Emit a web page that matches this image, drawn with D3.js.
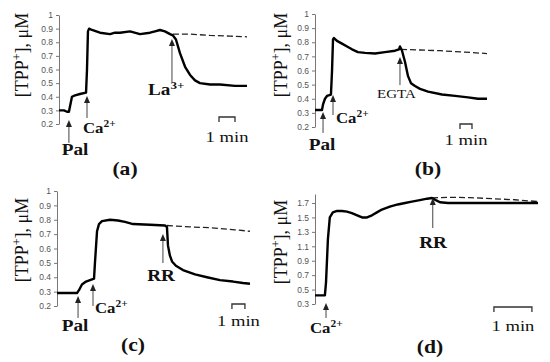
<!DOCTYPE html>
<html>
<head>
<meta charset="utf-8">
<script src="https://cdn.jsdelivr.net/npm/d3@7"></script>
<style>
  body { margin: 0; background: #fff; }
  svg { display: block; }
</style>
</head>
<body>
<svg id="chart" width="550" height="362"></svg>
<script>
// time in minutes, [TPP+] in µM

// (a) Pal, Ca2+, La3+
const timeA = [0, 0.31, 0.5, 0.62, 0.69, 0.81, 1.0, 1.31, 1.69, 1.75, 1.81, 1.88, 2.06, 2.56, 3.19, 3.5, 3.81, 4.44, 5.06, 5.69, 6.0, 6.31, 6.62, 6.94, 7.12, 7.31, 7.56, 7.88, 8.19, 8.5, 8.81, 9.44, 10.06, 11.0, 11.75]
const tppA = [0.30, 0.30, 0.29, 0.29, 0.33, 0.40, 0.41, 0.42, 0.43, 0.60, 0.88, 0.90, 0.89, 0.87, 0.86, 0.87, 0.87, 0.88, 0.86, 0.87, 0.88, 0.89, 0.88, 0.86, 0.85, 0.82, 0.72, 0.62, 0.56, 0.52, 0.50, 0.49, 0.49, 0.48, 0.48]
const dashTimeA = [7.12, 8.19, 9.44, 10.69, 11.75]
const dashTppA = [0.86, 0.86, 0.85, 0.845, 0.84]

// (b) Pal, Ca2+, EGTA
const timeB = [0, 0.58, 0.67, 0.83, 1.0, 1.33, 1.42, 1.5, 1.58, 1.83, 2.25, 2.67, 3.08, 3.58, 4.17, 5.0, 5.83, 6.67, 7.0, 7.08, 7.25, 7.5, 7.75, 8.0, 8.33, 8.75, 9.42, 10.58, 11.67, 12.75, 13.58, 14.33]
const tppB = [0.32, 0.32, 0.36, 0.40, 0.42, 0.43, 0.60, 0.82, 0.83, 0.81, 0.79, 0.77, 0.75, 0.73, 0.725, 0.72, 0.73, 0.74, 0.75, 0.77, 0.74, 0.66, 0.56, 0.51, 0.49, 0.47, 0.45, 0.43, 0.42, 0.41, 0.40, 0.40]
const dashTimeB = [7.17, 8.75, 10.42, 12.5, 14.33]
const dashTppB = [0.75, 0.745, 0.74, 0.73, 0.72]

// (c) Pal, Ca2+, RR
const timeC = [0, 1.0, 1.54, 1.69, 1.92, 2.23, 2.54, 2.85, 2.92, 3.08, 3.23, 3.46, 4.08, 4.69, 5.23, 5.85, 7.15, 8.31, 8.46, 8.54, 8.69, 8.85, 9.15, 9.69, 10.62, 11.54, 12.54, 13.54, 14.31, 14.85]
const tppC = [0.29, 0.29, 0.29, 0.31, 0.35, 0.37, 0.38, 0.39, 0.50, 0.72, 0.77, 0.79, 0.80, 0.795, 0.785, 0.77, 0.765, 0.76, 0.75, 0.62, 0.55, 0.51, 0.48, 0.45, 0.42, 0.40, 0.38, 0.37, 0.36, 0.355]
const dashTimeC = [8.46, 10.23, 11.77, 13.69, 14.85]
const dashTppC = [0.76, 0.75, 0.745, 0.73, 0.72]

// (d) Ca2+, RR
const timeD = [0, 0.26, 0.29, 0.34, 0.39, 0.47, 0.58, 0.71, 0.84, 0.97, 1.11, 1.24, 1.37, 1.50, 1.63, 1.76, 1.97, 2.18, 2.37, 2.55, 2.76, 2.95, 3.08, 3.18, 3.29, 3.5, 4.08, 4.87, 5.87]
const tppD = [0.42, 0.42, 0.60, 1.20, 1.50, 1.57, 1.59, 1.59, 1.58, 1.56, 1.53, 1.50, 1.50, 1.53, 1.57, 1.61, 1.65, 1.68, 1.70, 1.72, 1.74, 1.76, 1.77, 1.74, 1.71, 1.70, 1.70, 1.70, 1.70]
const dashTimeD = [3.08, 3.5, 4.08, 4.66, 5.26, 5.87]
const dashTppD = [1.77, 1.78, 1.775, 1.76, 1.745, 1.72]

const ticksABC = [0.2, 0.3, 0.4, 0.5, 0.6, 0.7, 0.8, 0.9, 1]
const ticksD = [0.3, 0.5, 0.7, 0.9, 1.1, 1.3, 1.5, 1.7]

const serif = "'Liberation Serif', 'Times New Roman', serif"
// the source figure is a bit stretched sideways, so text is widened too
const stretch = 1.2

const panels = [
  {
    name: '(a)', time: timeA, tpp: tppA, dashTime: dashTimeA, dashTpp: dashTppA, ticks: ticksABC,
    xDomain: [0, 11.75], xRange: [59, 247], yDomain: [0.2, 1], yRange: [124, 15],
    yLabel: [22, 55], nameAt: [125, 175],
    scaleBar: { t: 10.0, y: 117, textY: 142 },
    arrows: [{ t: 0.62, tip: 0.229, tail: 0.061 }, { t: 1.75, tip: 0.405, tail: 0.244 }, { t: 7.06, tip: 0.824, tail: 0.508 }],
    notes: [
      { text: 'Pal', x: 75, y: 155, anchor: 'middle', size: 16 },
      { text: 'Ca', sup: '2+', x: 83, y: 133, anchor: 'start', size: 14 },
      { text: 'La', sup: '3+', x: 148, y: 95, anchor: 'start', size: 16 }
    ]
  },
  {
    name: '(b)', time: timeB, tpp: tppB, dashTime: dashTimeB, dashTpp: dashTppB, ticks: ticksABC,
    xDomain: [0, 14.33], xRange: [315, 487], yDomain: [0.2, 1], yRange: [127, 14],
    yLabel: [281, 55], nameAt: [428, 175],
    scaleBar: { t: 12.08, y: 124, textY: 145 },
    arrows: [{ t: 0.67, tip: 0.306, tail: 0.158 }, { t: 1.5, tip: 0.427, tail: 0.285 }, { t: 7.08, tip: 0.696, tail: 0.497 }],
    notes: [
      { text: 'Pal', x: 322, y: 150, anchor: 'middle', size: 16 },
      { text: 'Ca', sup: '2+', x: 336, y: 123, anchor: 'start', size: 14 },
      { text: 'EGTA', x: 377, y: 98, anchor: 'start', normal: true, size: 12.5 }
    ]
  },
  {
    name: '(c)', time: timeC, tpp: tppC, dashTime: dashTimeC, dashTpp: dashTppC, ticks: ticksABC,
    xDomain: [0, 14.85], xRange: [57, 250], yDomain: [0.2, 1], yRange: [306, 191],
    yLabel: [22, 240], nameAt: [133, 351],
    scaleBar: { t: 13.46, y: 304, textY: 326 },
    arrows: [{ t: 1.62, tip: 0.270, tail: 0.117 }, { t: 2.77, tip: 0.353, tail: 0.2 }, { t: 8.15, tip: 0.701, tail: 0.499 }],
    notes: [
      { text: 'Pal', x: 75, y: 331, anchor: 'middle', size: 16 },
      { text: 'Ca', sup: '2+', x: 95, y: 313, anchor: 'start', size: 14 },
      { text: 'RR', x: 161, y: 281, anchor: 'middle', size: 16 }
    ]
  },
  {
    name: '(d)', time: timeD, tpp: tppD, dashTime: dashTimeD, dashTpp: dashTppD, ticks: ticksD,
    xDomain: [0, 5.87], xRange: [315, 538], yDomain: [0.3, 1.825], yRange: [304, 194],
    yLabel: [281, 242], nameAt: [430, 353],
    scaleBar: { t: 4.71, y: 307, textY: 331 },
    arrows: [{ t: 0.29, tip: 0.314, tail: 0.106 }, { t: 3.1, tip: 1.769, tail: 1.353 }],
    notes: [
      { text: 'Ca', sup: '2+', x: 310, y: 333, anchor: 'start', size: 14 },
      { text: 'RR', x: 433, y: 248, anchor: 'middle', size: 16 }
    ]
  }
]

const svg = d3.select('#chart')

const addText = (g, x, y, size, bold, anchor) => g.append('text')
  .attr('transform', `translate(${x},${y}) scale(${stretch},1)`)
  .attr('text-anchor', anchor)
  .style('font-family', serif)
  .style('font-size', size + 'px')
  .style('font-weight', bold ? 'bold' : 'normal')
  .attr('fill', '#111')

panels.forEach(p => {
  const x = d3.scaleLinear().domain(p.xDomain).range(p.xRange)
  const y = d3.scaleLinear().domain(p.yDomain).range(p.yRange)
  const g = svg.append('g')

  // axis
  const axis = g.append('g')
    .attr('transform', `translate(${p.xRange[0]},0)`)
    .call(d3.axisLeft(y).tickValues(p.ticks).tickSize(3).tickSizeOuter(0).tickPadding(3)
      .tickFormat(d => String(+d.toFixed(1))))
  axis.select('.domain').attr('stroke', '#777')
  axis.selectAll('.tick line').attr('stroke', '#777')
  axis.selectAll('.tick text')
    .attr('fill', '#555')
    .style('font-family', "'Liberation Sans', Arial, sans-serif")
    .style('font-size', '8.5px')

  // y label
  const yl = g.append('text')
    .attr('transform', `translate(${p.yLabel[0] + 6},${p.yLabel[1]}) rotate(-90)`)
    .attr('text-anchor', 'middle')
    .style('font-family', serif)
    .style('font-size', '18px')
    .attr('fill', '#111')
  yl.append('tspan').text('[TPP')
  yl.append('tspan').text('+').attr('dy', -7).style('font-size', '12px')
  yl.append('tspan').text('], μM').attr('dy', 7)

  // control (dashed) trace
  const line = d3.line().x(d => x(d[0])).y(d => y(d[1]))
  g.append('path')
    .datum(d3.zip(p.dashTime, p.dashTpp))
    .attr('d', line)
    .attr('fill', 'none')
    .attr('stroke', '#222')
    .attr('stroke-width', 1.3)
    .attr('stroke-dasharray', '6,3')

  // main trace
  g.append('path')
    .datum(d3.zip(p.time, p.tpp))
    .attr('d', line)
    .attr('fill', 'none')
    .attr('stroke', '#000')
    .attr('stroke-width', 2.4)
    .attr('stroke-linejoin', 'round')

  // arrows
  p.arrows.forEach(a => {
    const ax = x(a.t), tip = y(a.tip), tail = y(a.tail)
    g.append('line')
      .attr('x1', ax).attr('x2', ax)
      .attr('y1', tail).attr('y2', tip + 5)
      .attr('stroke', '#444').attr('stroke-width', 1)
    g.append('path')
      .attr('d', `M${ax},${tip}L${ax - 3},${tip + 7}L${ax + 3},${tip + 7}Z`)
      .attr('fill', '#222')
  })

  // annotations
  p.notes.forEach(n => {
    const t = addText(g, n.x, n.y, n.size, !n.normal, n.anchor)
    t.append('tspan').text(n.text)
    if (n.sup) t.append('tspan').text(n.sup).attr('dy', -6).style('font-size', (n.size * 0.68) + 'px')
  })

  // 1 min scale bar
  const sb = p.scaleBar
  const x0 = x(sb.t), x1 = x(sb.t + 1)
  g.append('path')
    .attr('d', `M${x0},${sb.y + 5}V${sb.y}H${x1}V${sb.y + 5}`)
    .attr('fill', 'none').attr('stroke', '#333').attr('stroke-width', 1.3)
  addText(g, (x0 + x1) / 2, sb.textY, 15.5, false, 'middle').text('1 min')

  // panel name
  addText(g, p.nameAt[0], p.nameAt[1], 18, true, 'middle').text(p.name)
})
</script>
</body>
</html>
